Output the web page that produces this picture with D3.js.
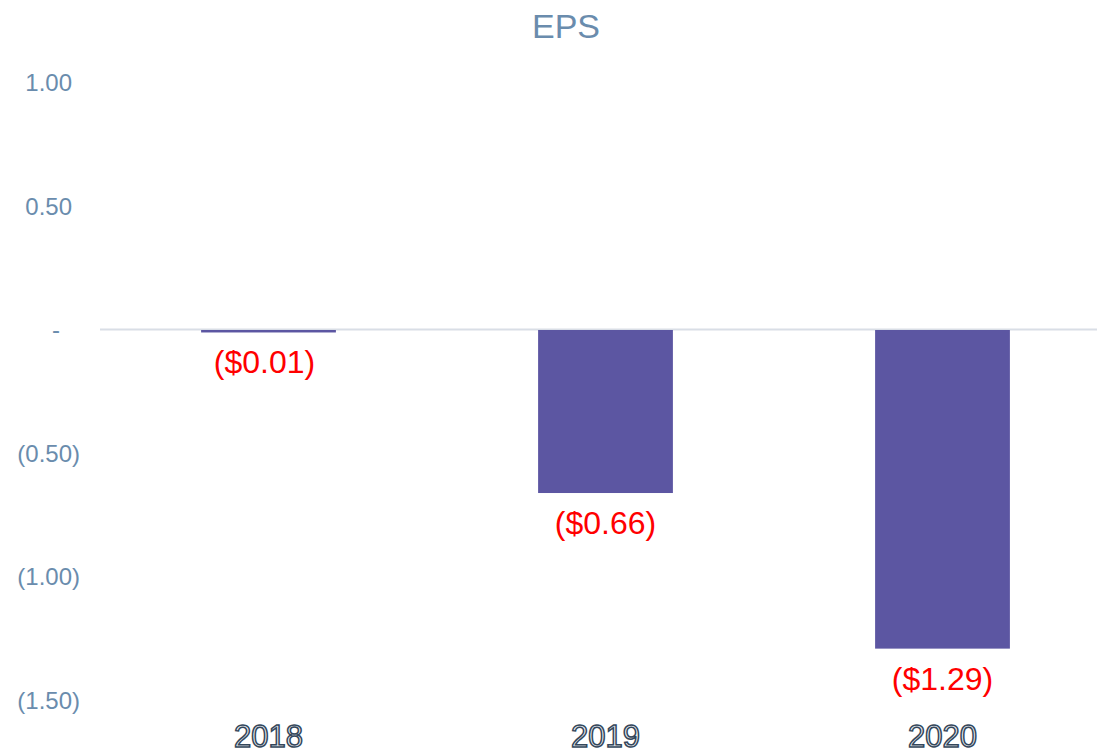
<!DOCTYPE html>
<html>
<head>
<meta charset="utf-8">
<script src="https://cdn.jsdelivr.net/npm/d3@7"></script>
<style>
  body { margin: 0; background: #fff; }
  svg { display: block; font-family: "Liberation Sans", Arial, sans-serif; }
</style>
</head>
<body>
<svg id="chart" width="1097" height="754"></svg>
<script>
// chart data
const years = ["2018", "2019", "2020"];
const eps = [-0.01, -0.66, -1.29];
const epsLabels = ["($0.01)", "($0.66)", "($1.29)"];
const yTicks = [1.0, 0.5, 0, -0.5, -1.0, -1.5];

const svg = d3.select("#chart");

// scales
const x = d3.scaleBand()
    .domain(years)
    .range([100, 1111])
    .paddingInner(0.6)
    .paddingOuter(0.3);

const y = d3.scaleLinear()
    .domain([-1.5, 1])
    .range([700.5, 83]);

// accounting style tick format
const fmtTick = v => {
    if (v === 0) return "-";
    if (v < 0) return "(" + d3.format(".2f")(-v) + ")";
    return d3.format(".2f")(v);
};

// title
svg.append("text")
    .attr("x", 566)
    .attr("y", 38)
    .attr("text-anchor", "middle")
    .attr("font-size", 34)
    .attr("fill", "#6a8cad")
    .text("EPS");

// y axis labels
svg.selectAll(".ytick")
    .data(yTicks)
    .enter()
    .append("text")
    .attr("class", "ytick")
    .attr("x", d => d < 0 ? 80 : (d === 0 ? 60 : 72))
    .attr("y", d => y(d))
    .attr("dy", "0.35em")
    .attr("text-anchor", "end")
    .attr("font-size", 24)
    .attr("fill", "#6a8cad")
    .text(fmtTick);

// zero line
svg.append("line")
    .attr("x1", 100)
    .attr("x2", 1097)
    .attr("y1", y(0) - 0.5)
    .attr("y2", y(0) - 0.5)
    .attr("stroke", "#d9dee6")
    .attr("stroke-width", 2);

// bars
const bars = years.map((yr, i) => ({ year: yr, value: eps[i], label: epsLabels[i] }));

svg.selectAll(".bar")
    .data(bars)
    .enter()
    .append("rect")
    .attr("class", "bar")
    .attr("x", d => x(d.year))
    .attr("width", x.bandwidth())
    .attr("y", d => y(Math.max(0, d.value)))
    .attr("height", d => Math.max(1.5, Math.abs(y(d.value) - y(0))))
    .attr("fill", "#5c56a2");

// value labels
svg.selectAll(".val")
    .data(bars)
    .enter()
    .append("text")
    .attr("class", "val")
    .attr("x", d => x(d.year) + x.bandwidth() / 2 - (d.value > -0.05 ? 4 : 0))
    .attr("y", d => y(d.value) + 41)
    .attr("text-anchor", "middle")
    .attr("font-size", 32)
    .attr("fill", "#ff0000")
    .text(d => d.label);

// x axis labels (outlined)
svg.selectAll(".xlab")
    .data(years)
    .enter()
    .append("text")
    .attr("class", "xlab")
    .attr("x", d => x(d) + x.bandwidth() / 2)
    .attr("y", 747)
    .attr("text-anchor", "middle")
    .attr("font-size", 31)
    .attr("fill", "#e9edf1")
    .attr("stroke", "#34475b")
    .attr("stroke-width", 1.5)
    .text(d => d);
</script>
</body>
</html>
